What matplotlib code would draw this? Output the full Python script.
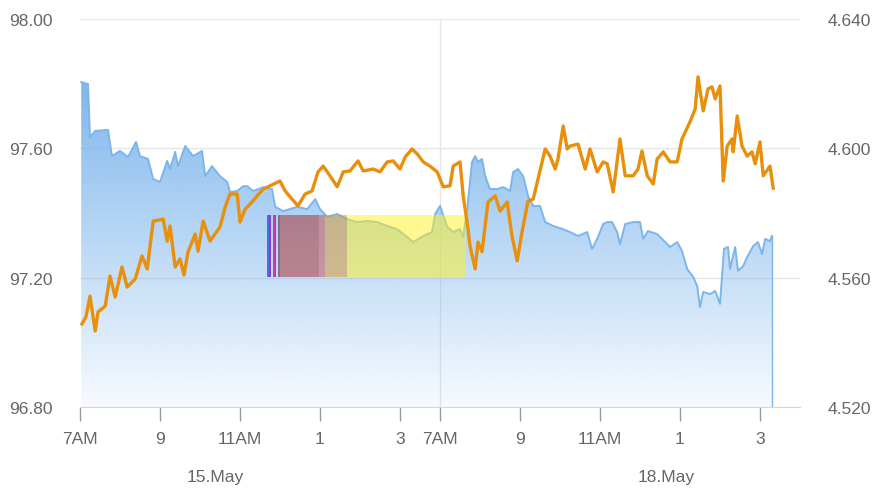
import numpy as np
import matplotlib
matplotlib.use("Agg")
import matplotlib.pyplot as plt
import matplotlib.colors as mcolors
from matplotlib.patches import Polygon

plt.rcParams['font.family'] = ['Liberation Sans', 'DejaVu Sans']

# x is trading hours on a compressed axis: 0 = 15.May 7AM, 9 = 18.May 7AM
blue_hours = [0.03, 0.20, 0.25, 0.38, 0.70, 0.80, 1.00, 1.20, 1.40, 1.50, 1.70, 1.83, 2.00,
              2.18, 2.25, 2.38, 2.45, 2.63, 2.83, 3.05, 3.13, 3.30, 3.50, 3.68, 3.75, 3.93,
              4.08, 4.18, 4.33, 4.58, 4.80, 4.88, 5.08, 5.43, 5.68, 5.88, 6.00, 6.18, 6.43,
              6.68, 6.93, 7.18, 7.43, 7.68, 7.93, 8.18, 8.33, 8.58, 8.80, 8.88, 9.00, 9.18,
              9.33, 9.50, 9.58, 9.68, 9.80, 9.88, 9.95, 10.05, 10.13, 10.25, 10.43, 10.58,
              10.75, 10.83, 10.95, 11.08, 11.20, 11.33, 11.50, 11.63, 11.83, 12.08, 12.25,
              12.45, 12.68, 12.80, 12.93, 13.08, 13.18, 13.30, 13.43, 13.50, 13.63, 13.83,
              14.00, 14.08, 14.20, 14.43, 14.63, 14.75, 14.93, 15.05, 15.18, 15.33, 15.43,
              15.50, 15.58, 15.75, 15.88, 16.00, 16.10, 16.20, 16.25, 16.38, 16.45, 16.58,
              16.68, 16.83, 16.95, 17.05, 17.13, 17.25, 17.30]
blue_vals = [97.805, 97.799, 97.635, 97.654, 97.657, 97.576, 97.592, 97.573, 97.620, 97.576,
             97.567, 97.505, 97.496, 97.561, 97.536, 97.589, 97.545, 97.607, 97.576, 97.592,
             97.514, 97.545, 97.514, 97.496, 97.465, 97.468, 97.483, 97.483, 97.468, 97.480,
             97.474, 97.419, 97.406, 97.419, 97.412, 97.443, 97.412, 97.388, 97.397, 97.381,
             97.372, 97.375, 97.372, 97.360, 97.350, 97.326, 97.310, 97.329, 97.341, 97.397,
             97.422, 97.357, 97.341, 97.350, 97.326, 97.412, 97.558, 97.576, 97.558, 97.567,
             97.514, 97.474, 97.474, 97.480, 97.468, 97.527, 97.536, 97.514, 97.453, 97.422,
             97.422, 97.372, 97.360, 97.350, 97.341, 97.329, 97.341, 97.289, 97.320, 97.366,
             97.372, 97.372, 97.341, 97.304, 97.366, 97.372, 97.372, 97.320, 97.344, 97.335,
             97.310, 97.295, 97.310, 97.282, 97.227, 97.202, 97.174, 97.109, 97.156, 97.149,
             97.159, 97.119, 97.289, 97.295, 97.227, 97.295, 97.221, 97.236, 97.264, 97.298,
             97.310, 97.273, 97.320, 97.313, 97.329]

orange_hours = [0.05, 0.15, 0.25, 0.38, 0.45, 0.63, 0.75, 0.88, 1.05, 1.18, 1.38, 1.55, 1.68,
                1.83, 2.08, 2.18, 2.25, 2.38, 2.50, 2.60, 2.70, 2.88, 2.95, 3.08, 3.25, 3.50,
                3.63, 3.75, 3.93, 4.00, 4.13, 4.30, 4.43, 4.58, 4.75, 5.00, 5.13, 5.30, 5.45,
                5.63, 5.80, 5.95, 6.08, 6.25, 6.43, 6.58, 6.75, 6.95, 7.08, 7.33, 7.50, 7.68,
                7.83, 8.00, 8.13, 8.30, 8.43, 8.58, 8.75, 8.93, 9.08, 9.25, 9.33, 9.50, 9.58,
                9.70, 9.75, 9.88, 9.95, 10.05, 10.20, 10.38, 10.50, 10.68, 10.80, 10.93, 11.05,
                11.20, 11.33, 11.45, 11.63, 11.75, 11.88, 11.95, 12.08, 12.18, 12.25, 12.45,
                12.63, 12.75, 12.93, 13.08, 13.18, 13.33, 13.50, 13.63, 13.83, 13.95, 14.05,
                14.18, 14.33, 14.43, 14.58, 14.75, 14.93, 15.05, 15.25, 15.38, 15.45, 15.58,
                15.70, 15.80, 15.88, 16.00, 16.08, 16.18, 16.30, 16.33, 16.43, 16.55, 16.68,
                16.80, 16.88, 17.00, 17.08, 17.25, 17.33]
orange_vals = [4.5457, 4.5479, 4.5543, 4.5435, 4.5494, 4.5512, 4.5605, 4.5540, 4.5633, 4.5571,
               4.5596, 4.5667, 4.5627, 4.5775, 4.5781, 4.5713, 4.5760, 4.5633, 4.5658, 4.5608,
               4.5679, 4.5735, 4.5682, 4.5775, 4.5713, 4.5757, 4.5819, 4.5859, 4.5859, 4.5772,
               4.5812, 4.5834, 4.5853, 4.5874, 4.5884, 4.5899, 4.5868, 4.5843, 4.5822, 4.5859,
               4.5868, 4.5927, 4.5945, 4.5915, 4.5881, 4.5927, 4.5930, 4.5961, 4.5930, 4.5936,
               4.5927, 4.5958, 4.5961, 4.5936, 4.5973, 4.5998, 4.5983, 4.5958, 4.5945, 4.5927,
               4.5881, 4.5884, 4.5945, 4.5958, 4.5853, 4.5751, 4.5698, 4.5627, 4.5710, 4.5680,
               4.5834, 4.5853, 4.5806, 4.5834, 4.5729, 4.5652, 4.5741, 4.5837, 4.5843, 4.5905,
               4.5998, 4.5976, 4.5936, 4.5967, 4.6069, 4.5998, 4.6007, 4.6013, 4.5936, 4.5998,
               4.5927, 4.5958, 4.5952, 4.5865, 4.6029, 4.5915, 4.5915, 4.5936, 4.5992, 4.5915,
               4.5890, 4.5967, 4.5989, 4.5958, 4.5958, 4.6029, 4.6082, 4.6122, 4.6221, 4.6116,
               4.6184, 4.6190, 4.6153, 4.6193, 4.5899, 4.6007, 4.6029, 4.5989, 4.6100, 4.6007,
               4.5976, 4.5989, 4.5952, 4.6020, 4.5915, 4.5945, 4.5877]

# coloured overlay block (hour start, hour end, colour, alpha), spanning 97.202 - 97.394
overlay_low, overlay_high = 97.202, 97.394
overlay_bands = [(4.68, 4.725, '#3c6ee6', 0.95),
                 (4.73, 4.77, '#8c32c8', 0.95),
                 (4.83, 4.87, '#d232aa', 0.95),
                 (4.875, 4.90, '#7a3ca0', 0.9),
                 (4.95, 5.00, '#6a5a78', 0.8),
                 (5.00, 5.98, '#aa2828', 0.5),
                 (5.98, 6.13, '#cd3c3c', 0.45),
                 (6.13, 6.68, '#d79628', 0.5),
                 (6.68, 9.65, '#fff020', 0.5)]

tick_pos = [0, 2, 4, 6, 8, 9, 11, 13, 15, 17]
tick_labels = ['7AM', '9', '11AM', '1', '3', '7AM', '9', '11AM', '1', '3']
day_labels = [('15.May', 3.38), ('18.May', 14.65)]

left_ticks = [96.80, 97.20, 97.60, 98.00]
right_ticks = [4.520, 4.560, 4.600, 4.640]

blue = '#7cb5ec'
orange = '#e8900c'
label_color = '#666666'
grid_color = '#e6e6e6'

fig = plt.figure(figsize=(8.76, 4.89), dpi=100)
ax1 = fig.add_axes([80 / 876, 81 / 489, 720 / 876, 388 / 489])
ax2 = ax1.twinx()

xmin, xmax = 0, 18
ymin, ymax = 96.80, 98.00

# gradient area under blue series
rgba = np.zeros((256, 1, 4))
rgba[..., :3] = mcolors.to_rgb(blue)
rgba[..., 3] = np.linspace(0.98, 0.06, 256).reshape(-1, 1)
top = max(blue_vals)
im = ax1.imshow(rgba, aspect='auto', extent=[xmin, xmax, ymin, top], origin='upper', zorder=1)
verts = [(blue_hours[0], ymin)] + list(zip(blue_hours, blue_vals)) + [(blue_hours[-1], ymin)]
clip = Polygon(verts, closed=True, facecolor='none', edgecolor='none')
ax1.add_patch(clip)
im.set_clip_path(clip)
ax1.plot(blue_hours, blue_vals, color=blue, lw=1.4, zorder=2)
ax1.plot([blue_hours[-1], blue_hours[-1]], [blue_vals[-1], ymin], color=blue, lw=1.0, zorder=2)

for x0, x1, c, a in overlay_bands:
    ax1.fill_between([x0, x1], overlay_low, overlay_high, color=c, alpha=a, lw=0, zorder=3)

ax2.plot(orange_hours, orange_vals, color=orange, lw=2.4, solid_joinstyle='round', zorder=4)

ax1.set_xlim(xmin, xmax)
ax1.set_ylim(ymin, ymax)
ax2.set_ylim(4.52, 4.64)

# grid
for y in left_ticks[1:]:
    ax1.axhline(y, color=grid_color, lw=1, zorder=0)
ax1.axvline(9, color=grid_color, lw=1, zorder=0)

for ax in (ax1, ax2):
    for s in ax.spines.values():
        s.set_visible(False)
ax1.spines['bottom'].set_visible(True)
ax1.spines['bottom'].set_color('#ccd6eb')

ax1.set_xticks(tick_pos)
ax1.set_xticklabels(tick_labels)
ax1.tick_params(axis='x', length=10, width=1, color='#999999', pad=7,
                labelsize=12.5, labelcolor=label_color)
ax1.set_yticks(left_ticks)
ax1.set_yticklabels([f'{v:.2f}' for v in left_ticks])
ax1.tick_params(axis='y', length=0, pad=20, labelsize=12.5, labelcolor=label_color)
ax2.set_yticks(right_ticks)
ax2.set_yticklabels([f'{v:.3f}' for v in right_ticks])
ax2.tick_params(axis='y', length=0, pad=20, labelsize=12.5, labelcolor=label_color)

for text, h in day_labels:
    fx = (80 + h * 40) / 876
    fig.text(fx, 11 / 489, text, ha='center', va='center', fontsize=12.5, color=label_color)

fig.savefig('out.png', dpi=100)
